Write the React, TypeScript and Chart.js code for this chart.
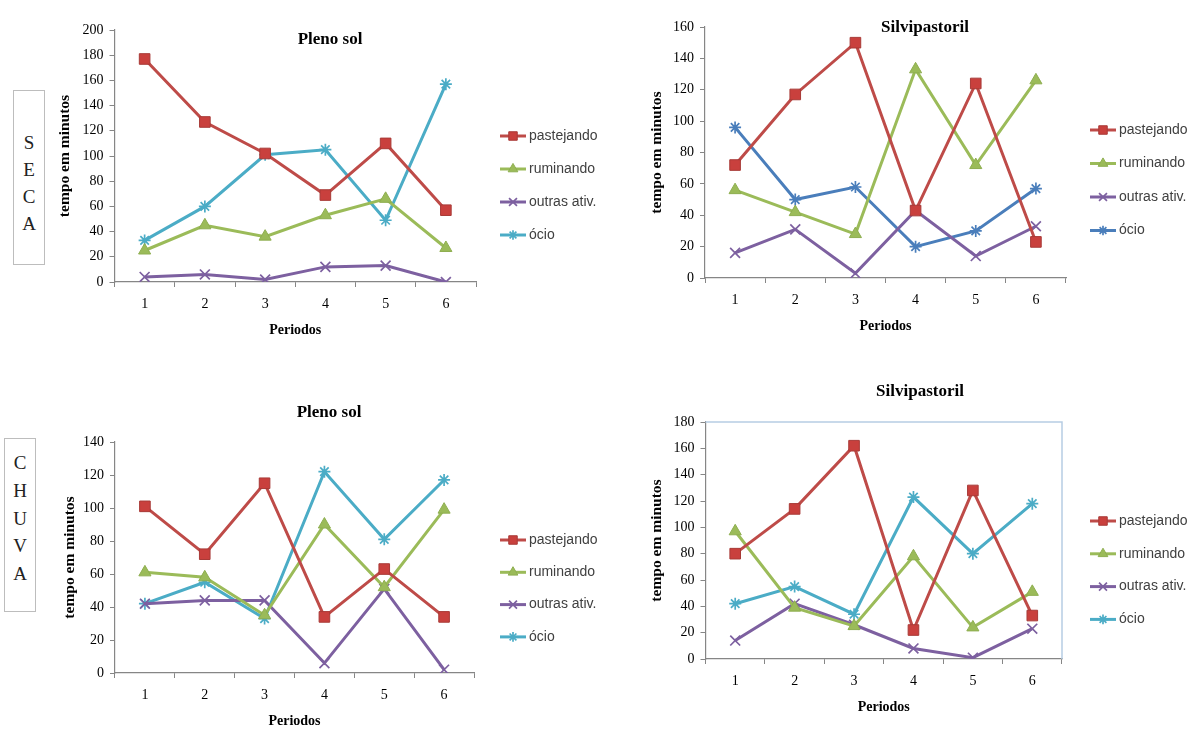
import React, { useEffect, useRef } from 'react';
import { Chart, registerables } from 'chart.js';
import { drawPoint } from 'chart.js/helpers';

Chart.register(...registerables);

// ---------- data ----------
const periods = ['1', '2', '3', '4', '5', '6'];
const seriesNames = ['pastejando', 'ruminando', 'outras ativ.', 'ócio'];

const secaPlenoPastejando = [177, 127, 102, 69, 110, 57];
const secaPlenoRuminando = [25, 45, 36, 53, 66, 27];
const secaPlenoOutras = [4, 6, 2, 12, 13, 0];
const secaPlenoOcio = [33, 60, 101, 105, 49, 157];

const secaSilviPastejando = [72, 117, 150, 43, 124, 23];
const secaSilviRuminando = [56, 42, 28, 133, 72, 126];
const secaSilviOutras = [16, 31, 3, 43, 14, 33];
const secaSilviOcio = [96, 50, 58, 20, 30, 57];

const chuvaPlenoPastejando = [101, 72, 115, 34, 63, 34];
const chuvaPlenoRuminando = [61, 58, 35, 90, 52, 99];
const chuvaPlenoOutras = [42, 44, 44, 6, 51, 2];
const chuvaPlenoOcio = [42, 55, 33, 122, 81, 117];

const chuvaSilviPastejando = [80, 114, 162, 22, 128, 33];
const chuvaSilviRuminando = [97, 39, 25, 78, 24, 51];
const chuvaSilviOutras = [14, 42, 26, 8, 1, 23];
const chuvaSilviOcio = [42, 55, 34, 123, 80, 118];

const titles = ['Pleno sol', 'Silvipastoril', 'Pleno sol', 'Silvipastoril'];
const yMaxes = [200, 160, 140, 180];
const yStep = 20;
const xTitle = 'Periodos';
const yTitle = 'tempo em minutos';
const secaLetters = ['S', 'E', 'C', 'A'];
const chuvaLetters = ['C', 'H', 'U', 'V', 'A'];

// ---------- styles ----------
const SERIF = '"Liberation Serif", "Times New Roman", serif';
const SANS = '"Liberation Sans", Arial, sans-serif';
const AXIS = '#868686';
const Y_TITLE_SIZE = 15.5;

const seriesStyle = [
  { line: '#be4b48', fill: '#c9403d', border: '#a83a37', style: 'rect', r: 7.5 },
  { line: '#9bbb59', fill: '#9bbb59', border: '#8eae50', style: 'triangle', r: 7 },
  { line: '#7d60a0', fill: '#7d60a0', border: '#7d60a0', style: 'crossRot', r: 7 },
  { line: '#4bacc6', fill: '#4bacc6', border: '#4bacc6', style: 'star', r: 6 },
];
const ocioBlue = '#4a7ebb';

type Panel = {
  left: number; top: number; width: number; height: number;
  plot: { l: number; t: number; r: number; b: number };
  titlePos: { x: number; y: number };
  yTitleX: number;
  legend: { x: number; y: number; gap: number };
  series: number[][];
  title: string;
  yMax: number;
  ocioColor?: string;
  border?: boolean;
};

const panels: Panel[] = [
  {
    left: 40, top: 0, width: 560, height: 360,
    plot: { l: 114.5, t: 30, r: 476, b: 282 },
    titlePos: { x: 330, y: 40 }, yTitleX: 65,
    legend: { x: 500, y: 136, gap: 33 },
    series: [secaPlenoPastejando, secaPlenoRuminando, secaPlenoOutras, secaPlenoOcio],
    title: titles[0], yMax: yMaxes[0],
  },
  {
    left: 630, top: 0, width: 572, height: 360,
    plot: { l: 705, t: 27, r: 1066, b: 278 },
    titlePos: { x: 925, y: 28 }, yTitleX: 657,
    legend: { x: 1090, y: 130, gap: 33.5 },
    series: [secaSilviPastejando, secaSilviRuminando, secaSilviOutras, secaSilviOcio],
    title: titles[1], yMax: yMaxes[1], ocioColor: ocioBlue,
  },
  {
    left: 40, top: 370, width: 560, height: 370,
    plot: { l: 115, t: 442, r: 474, b: 673 },
    titlePos: { x: 329, y: 413 }, yTitleX: 70,
    legend: { x: 500, y: 540, gap: 32.3 },
    series: [chuvaPlenoPastejando, chuvaPlenoRuminando, chuvaPlenoOutras, chuvaPlenoOcio],
    title: titles[2], yMax: yMaxes[2],
  },
  {
    left: 630, top: 370, width: 572, height: 370,
    plot: { l: 705.5, t: 422, r: 1062, b: 659 },
    titlePos: { x: 920, y: 392 }, yTitleX: 657,
    legend: { x: 1090, y: 521, gap: 32.8 },
    series: [chuvaSilviPastejando, chuvaSilviRuminando, chuvaSilviOutras, chuvaSilviOcio],
    title: titles[3], yMax: yMaxes[3], border: true,
  },
];

// ---------- plugins ----------
const panelTitlePlugin = {
  id: 'panelTitle',
  afterDraw(chart: any, _a: any, opts: any) {
    const ctx = chart.ctx;
    ctx.save();
    ctx.font = `bold 17px ${SERIF}`;
    ctx.fillStyle = '#000';
    ctx.textAlign = 'center';
    ctx.textBaseline = 'middle';
    ctx.fillText(opts.text, opts.x, opts.y);
    ctx.restore();
  },
};

const plotBorderPlugin = {
  id: 'plotBorder',
  beforeDatasetsDraw(chart: any, _a: any, opts: any) {
    if (!opts.show) return;
    const { left, top, right, bottom } = chart.chartArea;
    const ctx = chart.ctx;
    ctx.save();
    ctx.strokeStyle = '#b7cde3';
    ctx.lineWidth = 1.5;
    ctx.beginPath();
    ctx.moveTo(left, top);
    ctx.lineTo(right, top);
    ctx.lineTo(right, bottom);
    ctx.stroke();
    ctx.restore();
  },
};

const excelLegendPlugin = {
  id: 'excelLegend',
  afterDraw(chart: any, _a: any, opts: any) {
    const ctx = chart.ctx;
    const lineLen = 26;
    chart.data.datasets.forEach((ds: any, i: number) => {
      const y = opts.y + i * opts.gap;
      const x0 = opts.x;
      ctx.save();
      ctx.strokeStyle = ds.borderColor;
      ctx.lineWidth = ds.borderWidth;
      ctx.beginPath();
      ctx.moveTo(x0, y);
      ctx.lineTo(x0 + lineLen, y);
      ctx.stroke();
      ctx.fillStyle = ds.pointBackgroundColor;
      ctx.strokeStyle = ds.pointBorderColor;
      ctx.lineWidth = ds.pointBorderWidth;
      drawPoint(ctx, { pointStyle: ds.pointStyle, radius: ds.pointRadius * 0.8, borderWidth: ds.pointBorderWidth, rotation: 0 } as any, x0 + lineLen / 2, y);
      ctx.font = `14px ${SANS}`;
      ctx.fillStyle = '#404040';
      ctx.textAlign = 'left';
      ctx.textBaseline = 'middle';
      ctx.fillText(ds.label, x0 + lineLen + 3, y);
      ctx.restore();
    });
  },
};

function buildConfig(p: Panel): any {
  const XH = 62;
  const yW = p.plot.l - p.left;
  const yTitleLh = Y_TITLE_SIZE * 1.2;
  const datasets = p.series.map((values, i) => {
    const s = seriesStyle[i];
    const isOcio = i === 3 && p.ocioColor;
    const line = isOcio ? p.ocioColor : s.line;
    return {
      label: seriesNames[i],
      data: values,
      borderColor: line,
      borderWidth: 3,
      pointStyle: s.style,
      pointRadius: s.r,
      pointBackgroundColor: isOcio ? p.ocioColor : s.fill,
      pointBorderColor: isOcio ? p.ocioColor : s.border,
      pointBorderWidth: s.style === 'rect' || s.style === 'triangle' ? 1 : 1.7,
      tension: 0,
      fill: false,
    };
  });
  return {
    type: 'line',
    data: { labels: periods, datasets },
    plugins: [panelTitlePlugin, plotBorderPlugin, excelLegendPlugin],
    options: {
      animation: false,
      responsive: false,
      maintainAspectRatio: false,
      events: [],
      layout: {
        padding: {
          left: 0,
          top: p.plot.t - p.top,
          right: p.left + p.width - p.plot.r,
          bottom: p.top + p.height - p.plot.b - XH,
        },
      },
      plugins: {
        legend: { display: false },
        tooltip: { enabled: false },
        title: { display: false },
        panelTitle: { text: p.title, x: p.titlePos.x - p.left, y: p.titlePos.y - p.top },
        plotBorder: { show: !!p.border },
        excelLegend: { x: p.legend.x - p.left, y: p.legend.y - p.top, gap: p.legend.gap },
      },
      scales: {
        x: {
          type: 'category',
          offset: true,
          grid: { display: true, drawOnChartArea: false, drawTicks: true, tickLength: 5, offset: true, color: AXIS, lineWidth: 1 },
          border: { display: true, color: AXIS, width: 1.2 },
          ticks: { font: { family: SERIF, size: 14 }, color: '#000', padding: 9 },
          title: {
            display: true, text: xTitle, color: '#000',
            font: { family: SERIF, size: 14, weight: 'bold' },
            padding: { top: 0, bottom: XH - 48 - 8.4 },
          },
          afterFit: (s: any) => { s.height = XH; },
        },
        y: {
          min: 0,
          max: p.yMax,
          grid: { display: true, drawOnChartArea: false, drawTicks: true, tickLength: 5, color: AXIS, lineWidth: 1 },
          border: { display: true, color: AXIS, width: 1.2 },
          ticks: { stepSize: yStep, font: { family: SERIF, size: 14 }, color: '#000', padding: 6 },
          title: {
            display: true, text: yTitle, color: '#000',
            font: { family: SERIF, size: Y_TITLE_SIZE, weight: 'bold' },
            padding: { top: p.yTitleX - p.left - yTitleLh / 2, bottom: 0 },
          },
          afterFit: (s: any) => { s.width = yW; },
        },
      },
    },
  };
}

function ChartPanel({ panel }: { panel: Panel }) {
  const ref = useRef<HTMLCanvasElement | null>(null);
  useEffect(() => {
    if (!ref.current) return;
    const chart = new Chart(ref.current, buildConfig(panel));
    return () => chart.destroy();
  }, [panel]);
  return (
    <canvas
      ref={ref}
      width={panel.width}
      height={panel.height}
      style={{ position: 'absolute', left: panel.left, top: panel.top, width: panel.width, height: panel.height }}
    />
  );
}

function SideLabel({ letters, left, top, width, height, padTop, lineH }: { letters: string[]; left: number; top: number; width: number; height: number; padTop: number; lineH: number }) {
  return (
    <div
      style={{
        position: 'absolute', left, top, width, height, boxSizing: 'border-box',
        border: '1px solid #bdbdbd', paddingTop: padTop, textAlign: 'center',
        fontFamily: SERIF, fontSize: 19, lineHeight: `${lineH}px`, color: '#222',
      }}
    >
      {letters.map((l, i) => (
        <div key={i}>{l}</div>
      ))}
    </div>
  );
}

export default function App() {
  return (
    <div style={{ position: 'fixed', left: 0, top: 0, width: 1202, height: 740, background: '#fff', overflow: 'hidden' }}>
      <SideLabel letters={secaLetters} left={13} top={90} width={32} height={175} padTop={38} lineH={27} />
      <SideLabel letters={chuvaLetters} left={4} top={438} width={32} height={174} padTop={10} lineH={27.75} />
      {panels.map((p, i) => (
        <ChartPanel key={i} panel={p} />
      ))}
    </div>
  );
}
